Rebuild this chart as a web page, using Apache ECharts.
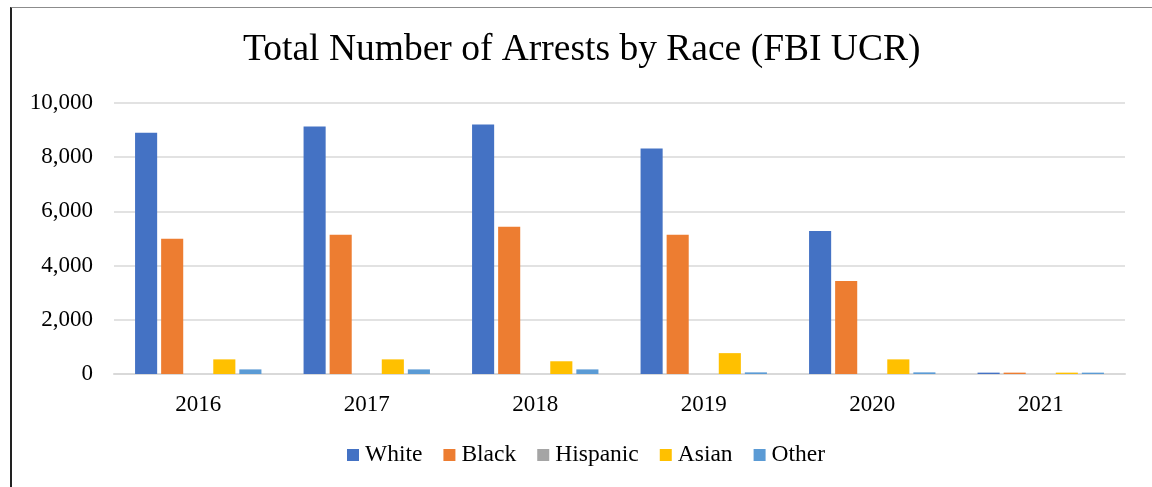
<!DOCTYPE html>
<html>
<head>
<meta charset="utf-8">
<script src="https://cdn.jsdelivr.net/npm/echarts@6/dist/echarts.min.js"></script>
<style>
  html, body { margin: 0; padding: 0; background: #fff; }
  #chart { width: 1152px; height: 487px; }
  #frame { position: absolute; left: 10px; top: 7px; width: 1142px; height: 480px;
           border-left: 2px solid #222; border-top: 1px solid #8c8c8c; box-sizing: border-box; pointer-events: none; }
</style>
</head>
<body>
<div id="chart"></div>
<div id="frame"></div>
<script>
const categories = ['2016', '2017', '2018', '2019', '2020', '2021'];
const seriesNames = ['White', 'Black', 'Hispanic', 'Asian', 'Other'];
const white = [8900, 9130, 9210, 8320, 5280, 50];
const black = [4990, 5140, 5430, 5140, 3430, 50];
const hispanic = [0, 0, 0, 0, 0, 0];
const asian = [540, 540, 470, 770, 540, 50];
const other = [170, 170, 170, 60, 60, 50];
const yTicks = [0, 2000, 4000, 6000, 8000, 10000];

const values = [white, black, hispanic, asian, other];
const colors = ['#4472C4', '#ED7D31', '#A5A5A5', '#FFC000', '#5B9BD5'];
const serif = '"Liberation Serif", "Times New Roman", serif';

const chart = echarts.init(document.getElementById('chart'));
chart.setOption({
  animation: false,
  backgroundColor: '#fff',
  title: {
    text: 'Total Number of Arrests by Race (FBI UCR)',
    left: 238, top: 26,
    textStyle: { fontFamily: serif, fontSize: 37.5, fontWeight: 'normal', color: '#000' }
  },
  legend: {
    data: seriesNames,
    left: 347, top: 443, padding: 0,
    itemWidth: 12, itemHeight: 12, itemGap: 21,
    icon: 'rect',
    textStyle: { fontFamily: serif, fontSize: 23.5, color: '#000', padding: [0, 0, 0, 1] }
  },
  grid: { left: 114, right: 27, top: 103, bottom: 113, containLabel: false },
  xAxis: {
    type: 'category',
    data: categories,
    axisLine: { lineStyle: { color: '#d9d9d9', width: 2 } },
    axisTick: { show: false },
    axisLabel: { fontFamily: serif, fontSize: 23, color: '#000', margin: 19 }
  },
  yAxis: {
    type: 'value',
    min: yTicks[0], max: yTicks[yTicks.length - 1], interval: 2000,
    axisLine: { show: false },
    axisTick: { show: false },
    splitLine: { lineStyle: { color: '#d9d9d9', width: 1.5 } },
    axisLabel: {
      fontFamily: serif, fontSize: 23, color: '#000', margin: 21, padding: [5, 0, 0, 0],
      formatter: v => v.toLocaleString('en-US')
    }
  },
  series: seriesNames.map((name, i) => ({
    name: name,
    type: 'bar',
    data: values[i],
    itemStyle: { color: colors[i] },
    barGap: '18%',
    barCategoryGap: '25%'
  }))
});
</script>
</body>
</html>
